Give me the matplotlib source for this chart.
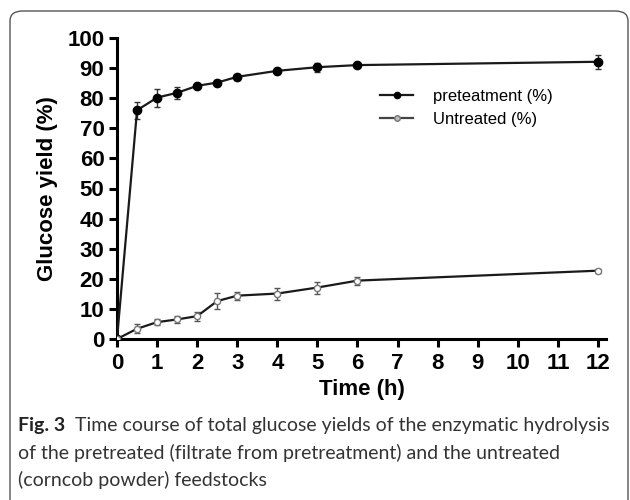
import matplotlib
matplotlib.use("Agg")
import matplotlib.pyplot as plt
from matplotlib.patches import FancyBboxPatch
from matplotlib.lines import Line2D

time_h = [0, 0.5, 1, 1.5, 2, 2.5, 3, 4, 5, 6, 12]
pretreat = [0, 76.0, 80.2, 81.8, 84.1, 85.2, 87.1, 89.1, 90.3, 91.0, 92.1]
pretreat_err = [0, 2.9, 3.0, 2.0, 1.0, 1.0, 1.0, 1.0, 1.5, 0.8, 2.3]
untreated = [0, 3.4, 5.6, 6.5, 7.6, 12.6, 14.4, 15.1, 17.1, 19.4, 22.7]
untreated_err = [0, 1.5, 1.0, 1.2, 1.5, 2.6, 1.3, 2.0, 2.0, 1.3, 0.7]
xticks = list(range(0, 13))
yticks = list(range(0, 101, 10))
legend_labels = ["preteatment (%)", "Untreated (%)"]
xlabel = "Time (h)"
ylabel = "Glucose yield (%)"
cap_bold = "Fig. 3"
cap_lines = ["Time course of total glucose yields of the enzymatic hydrolysis",
             "of the pretreated (filtrate from pretreatment) and the untreated",
             "(corncob powder) feedstocks"]

W, H = 630, 500
fig = plt.figure(figsize=(W/100, H/100), dpi=100)

# rounded frame
frame = FancyBboxPatch((10/W, -20/H), (618)/W, (489+20)/H,
                       boxstyle="round,pad=0,rounding_size=0.02",
                       transform=fig.transFigure, fill=False,
                       edgecolor="#555555", linewidth=1.0)
fig.patches.append(frame)

ax_left, ax_right = 117, 606
ax_bottom, ax_top = 339, 38
ax = fig.add_axes([ax_left/W, (H-ax_bottom)/H, (ax_right-ax_left)/W, (ax_bottom-ax_top)/H])
ax.set_xlim(0, 12.2)
ax.set_ylim(0, 100)

lc = "#1a1a1a"
ax.errorbar(time_h, pretreat, yerr=pretreat_err, color=lc, lw=1.6, marker="o",
            ms=6, mfc="black", mec="black", ecolor="#333333", elinewidth=1.0,
            capsize=2.5, capthick=1.0, zorder=3)
ax.errorbar(time_h, untreated, yerr=untreated_err, color=lc, lw=1.6, marker="o",
            ms=4.5, mfc="white", mec="#777777", mew=1.0, ecolor="#555555", elinewidth=1.0,
            capsize=2.5, capthick=1.0, zorder=3)

for s in ["top", "right"]:
    ax.spines[s].set_visible(False)
for s in ["left", "bottom"]:
    ax.spines[s].set_linewidth(2.2)
    ax.spines[s].set_color("black")

ax.set_xticks(xticks)
ax.set_yticks(yticks)
ax.tick_params(axis="both", direction="out", length=6, width=2.2, labelsize=16, pad=3)
ax.tick_params(axis="x", pad=4)
for lab in ax.get_xticklabels() + ax.get_yticklabels():
    lab.set_fontfamily("Liberation Sans")
    lab.set_fontweight("bold")

ax.set_xlabel(xlabel, fontsize=16, fontweight="bold", family="Liberation Sans", labelpad=4)
ax.set_ylabel(ylabel, fontsize=16, fontweight="bold", family="Liberation Sans", labelpad=7)

handles = [Line2D([], [], color=lc, lw=1.6, marker="o", ms=4.5, mfc="black", mec="black"),
           Line2D([], [], color="#444444", lw=1.6, marker="o", ms=4, mfc="#bbbbbb", mec="#777777")]
leg = ax.legend(handles, legend_labels, loc="upper left",
                bbox_to_anchor=((380-ax_left)/(ax_right-ax_left), 1-(89-ax_top)/(ax_bottom-ax_top)),
                frameon=False, prop={"family": "Liberation Sans", "size": 12},
                handlelength=2.0, handletextpad=1.2, labelspacing=0.45, borderaxespad=0, borderpad=0)

# caption
cap_font = "Lato"
cap_size = 14
fig.canvas.draw()
r = fig.canvas.get_renderer()
tb = fig.text(18/W, (H-425)/H, cap_bold, fontsize=cap_size, fontweight="bold", family=cap_font,
              color="#222222", va="center", ha="left")
bb = tb.get_window_extent(renderer=r)
fig.text((bb.x1 + 10)/W, (H-425)/H, cap_lines[0], fontsize=cap_size, family=cap_font,
         color="#333333", va="center", ha="left")
fig.text(18/W, (H-453)/H, cap_lines[1], fontsize=cap_size, family=cap_font,
         color="#333333", va="center", ha="left")
fig.text(18/W, (H-480)/H, cap_lines[2], fontsize=cap_size, family=cap_font,
         color="#333333", va="center", ha="left")

fig.savefig("out.png", dpi=100)
